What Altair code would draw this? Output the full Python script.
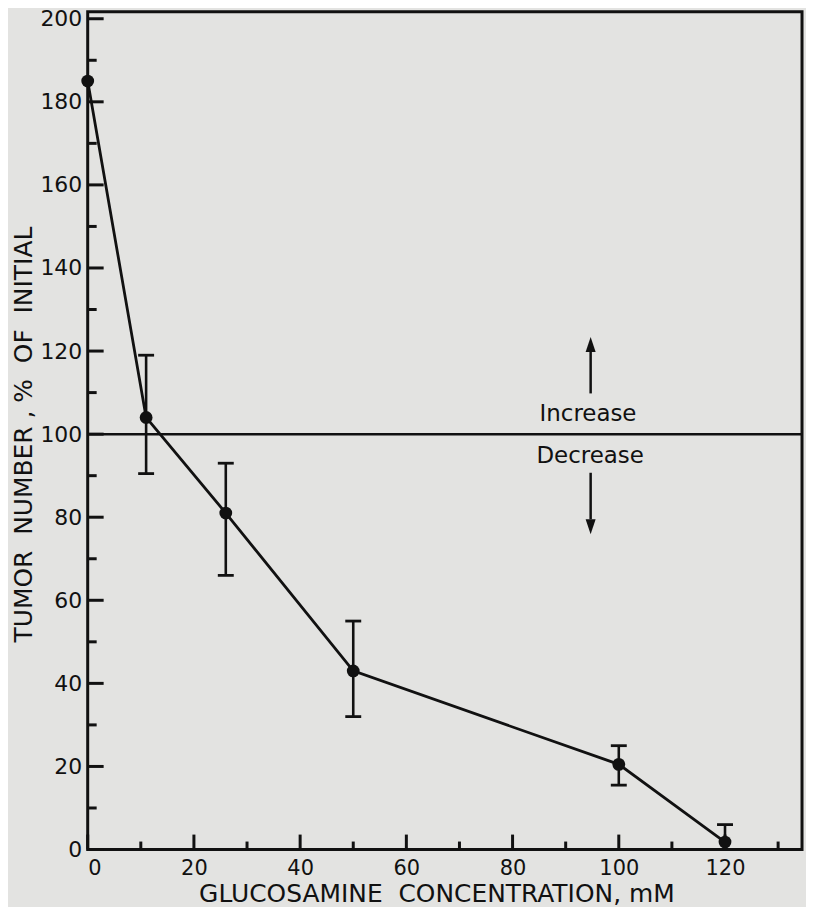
import altair as alt
import pandas as pd

# ---- data ----
conc = [0, 11, 26, 50, 100, 120]
tumor = [185, 104, 81, 43, 20.5, 1.8]

err_conc = [11, 26, 50, 100, 120]
err_low = [90.5, 66, 32, 15.5, 1.8]
err_high = [119, 93, 55, 25, 6]

low_cap_conc = [11, 26, 50, 100]
low_cap = [90.5, 66, 32, 15.5]

y_major = list(range(0, 201, 20))
y_minor = list(range(10, 200, 20))
x_major = list(range(0, 121, 20))
x_minor = list(range(10, 131, 20))

ref_level = [100]
labels_text = ["Increase", "Decrease"]
labels_x = [94.2, 94.6]
labels_y = [103.1, 93.1]

W, H = 717, 841
FONT = "DejaVu Sans"
INK = "#111111"
NB = "\u00a0"

xs = alt.Scale(domain=[0, 134.5], nice=False, zero=False)
ys = alt.Scale(domain=[0, 201.7], nice=False, zero=False)

xaxis = alt.Axis(
    title=f"GLUCOSAMINE{NB} CONCENTRATION, mM",
    values=x_major, domain=False, ticks=False, tickSize=0, grid=False,
    labelFont=FONT, labelFontSize=21, labelColor=INK, labelPadding=8,
    titleFont=FONT, titleFontSize=25, titleFontWeight="normal", titleColor=INK,
    titleBaseline="alphabetic", titleY=52, titleX=350,
)
yaxis = alt.Axis(
    title=f"TUMOR{NB} NUMBER{NB}, %{NB} OF{NB} INITIAL",
    values=y_major, domain=False, ticks=False, tickSize=0, grid=False,
    labelFont=FONT, labelFontSize=22, labelColor=INK, labelPadding=6,
    titleFont=FONT, titleFontSize=25, titleFontWeight="normal", titleColor=INK,
    titleBaseline="alphabetic", titleX=-56, titleY=424,
)


def X(field, **kw):
    return alt.X(field, type="quantitative", scale=xs, axis=xaxis, **kw)


def Y(field, **kw):
    return alt.Y(field, type="quantitative", scale=ys, axis=yaxis, **kw)


main = pd.DataFrame({"c": conc, "t": tumor})
err = pd.DataFrame({"c": err_conc, "lo": err_low, "hi": err_high})
lcap = pd.DataFrame({"c": low_cap_conc, "lo": low_cap})
ymaj = pd.DataFrame({"v": y_major})
ymin = pd.DataFrame({"v": y_minor})
xmaj = pd.DataFrame({"v": x_major})
xmin = pd.DataFrame({"v": x_minor})
ref = pd.DataFrame({"v": ref_level})
lab = pd.DataFrame({"txt": labels_text, "x": labels_x, "y": labels_y})

up_arrow = pd.DataFrame({"x": [94.7], "y1": [109.8], "y2": [119.8], "head": [121.6]})
down_arrow = pd.DataFrame({"x": [94.7], "y1": [90.7], "y2": [79.5], "head": [77.7]})

layers = []

# tick marks pointing inward
layers.append(alt.Chart(ymaj).mark_rule(color=INK, strokeWidth=3).encode(
    y=Y("v"), x=alt.value(0), x2=alt.value(16)))
layers.append(alt.Chart(ymin).mark_rule(color=INK, strokeWidth=3).encode(
    y=Y("v"), x=alt.value(0), x2=alt.value(9)))
layers.append(alt.Chart(xmaj).mark_rule(color=INK, strokeWidth=3).encode(
    x=X("v"), y=alt.value(H), y2=alt.value(H - 15)))
layers.append(alt.Chart(xmin).mark_rule(color=INK, strokeWidth=3).encode(
    x=X("v"), y=alt.value(H), y2=alt.value(H - 8)))

# reference line at 100 %
layers.append(alt.Chart(ref).mark_rule(color=INK, strokeWidth=2.5).encode(y=Y("v")))

# error bars
layers.append(alt.Chart(err).mark_rule(color=INK, strokeWidth=2.6).encode(
    x=X("c"), y=Y("lo"), y2="hi"))
layers.append(alt.Chart(err).mark_rule(color=INK, strokeWidth=2.8, xOffset=-8, x2Offset=8).encode(
    x=X("c"), x2="c", y=Y("hi")))
layers.append(alt.Chart(lcap).mark_rule(color=INK, strokeWidth=2.8, xOffset=-8, x2Offset=8).encode(
    x=X("c"), x2="c", y=Y("lo")))

# data line and points
layers.append(alt.Chart(main).mark_line(color=INK, strokeWidth=2.8).encode(x=X("c"), y=Y("t")))
layers.append(alt.Chart(main).mark_point(filled=True, color=INK, opacity=1, size=165, shape="circle").encode(
    x=X("c"), y=Y("t")))

# annotations
layers.append(alt.Chart(lab).mark_text(font=FONT, fontSize=23, color=INK, align="center",
                                       baseline="alphabetic").encode(
    x=X("x"), y=Y("y"), text="txt:N"))
layers.append(alt.Chart(up_arrow).mark_rule(color=INK, strokeWidth=2.5).encode(
    x=X("x"), y=Y("y1"), y2="y2"))
layers.append(alt.Chart(up_arrow).mark_point(filled=True, color=INK, opacity=1, size=225,
                                             shape="M -0.67 1 L 0.67 1 L 0 -1 Z").encode(
    x=X("x"), y=Y("head")))
layers.append(alt.Chart(down_arrow).mark_rule(color=INK, strokeWidth=2.5).encode(
    x=X("x"), y=Y("y1"), y2="y2"))
layers.append(alt.Chart(down_arrow).mark_point(filled=True, color=INK, opacity=1, size=225,
                                               shape="M -0.67 -1 L 0.67 -1 L 0 1 Z").encode(
    x=X("x"), y=Y("head")))

chart = alt.layer(*layers).properties(
    width=W, height=H,
    autosize=alt.AutoSizeParams(type="none"),
    padding={"left": 80, "top": 2, "right": 4, "bottom": 56},
    background="#e3e3e1",
).configure_view(stroke=INK, strokeWidth=3, fill="#e3e3e1")

chart.save("out.html", embed_options={"renderer": "svg", "actions": False})
